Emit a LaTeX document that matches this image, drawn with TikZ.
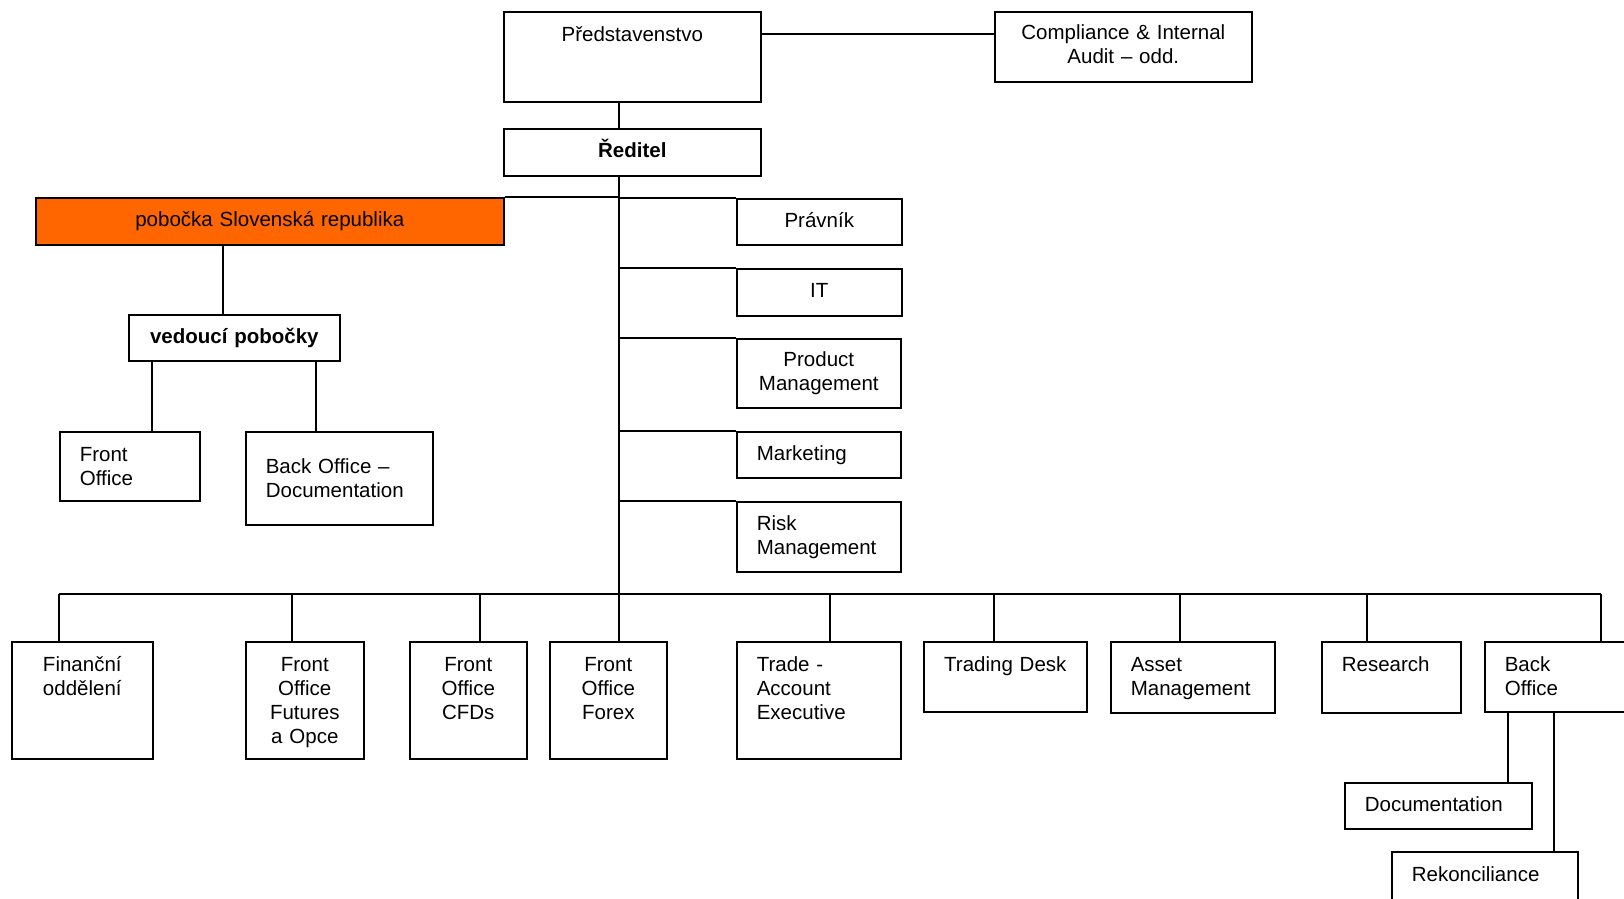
\documentclass[tikz,border=0pt]{standalone}
\usepackage{fontspec}
\setmainfont{Liberation Sans}
\usepackage{tikz}
\usetikzlibrary{positioning}
\usetikzlibrary{calc}

\definecolor{branch}{RGB}{255,102,0}
\hyphenpenalty=10000
\exhyphenpenalty=10000

\tikzset{
  box/.style 2 args={draw, line width=1.6pt, anchor=north west, inner xsep=20pt, inner ysep=0pt,
    text width=#1, minimum height=#2, align=center, font=\fontsize{20.5}{24}\selectfont},
  topline/.style={text height=30pt, text depth=#1},
  oneline/.style={text height=14pt, text depth=3pt},
  link/.style={line width=1.4pt},
}

\begin{document}
\begin{tikzpicture}[x=1pt, y=-1pt]
        \path[use as bounding box, fill=white] (0,0) rectangle (1624,898);

        % management
        \node[box={217pt}{90pt}, topline=60pt] (pred) at (503,11) {Představenstvo};
        \node[box={217pt}{70pt}, text height=15pt, text depth=29pt] (comp) at (994,11) {Compliance \& Internal\\Audit – odd.};
        \node[box={217pt}{47pt}, oneline] (red) at (503,128) {\bfseries Ředitel};
        \coordinate (trunk) at (619,594);

        % branch
        \node[box={428pt}{47pt}, fill=branch, oneline] (sk) at (35,197) {pobočka Slovenská republika};
        \node[box={171pt}{46pt}, oneline] (ved) at (128,314) {\bfseries vedoucí~pobočky};
        \node[box={100pt}{69pt}, align=left] (fo) at (59,431) {Front\\Office};
        \node[box={147pt}{93pt}, align=left] (bodoc) at (245,431) {Back Office –\\Documentation};

        % staff units
        \node[box={125pt}{46pt}, oneline] (prav) at (736,198) {Právník};
        \node[box={125pt}{47pt}, oneline] (it) at (736,268) {IT};
        \node[box={124pt}{69pt}] (pm) at (736,338) {Product\\Management};
        \node[box={124pt}{46pt}, align=left, oneline] (mkt) at (736,431) {Marketing};
        \node[box={124pt}{70pt}, align=left] (risk) at (736,501) {Risk\\Management};

        % departments
        \node[box={101pt}{117pt}, topline=87pt] (fin) at (11,641) {Finanční\\oddělení};
        \node[box={78pt}{117pt}, topline=87pt] (fofo) at (245,641) {Front\\Office\\Futures\\a Opce};
        \node[box={77pt}{117pt}, topline=87pt] (focfd) at (409,641) {Front\\Office\\CFDs};
        \node[box={77pt}{117pt}, topline=87pt] (fofx) at (549,641) {Front\\Office\\Forex};
        \node[box={124pt}{117pt}, topline=87pt, align=left] (tae) at (736,641) {Trade -\\Account\\Executive};
        \node[box={123pt}{70pt}, topline=40pt] (td) at (923,641) {Trading~Desk};
        \node[box={124pt}{71pt}, topline=41pt, align=left] (am) at (1110,641) {Asset\\Management};
        \node[box={99pt}{71pt}, topline=41pt, align=left] (res) at (1321,641) {Research};
        \node[box={110pt}{70pt}, topline=40pt, align=left] (bo) at (1484,641) {Back\\Office};
        \node[box={147pt}{46pt}, align=left, oneline] (doc) at (1344,782) {Documentation};
        \node[box={146pt}{60pt}, topline=30pt, align=left] (rek) at (1391,851) {Rekonciliance};

        % connectors
        \coordinate (predR) at (pred.north east |- 0,34);
        \draw[link] (predR) -- (predR -| comp.west);
        \draw[link] (pred.south -| trunk) -- (red.north -| trunk);
        \draw[link] (red.south -| trunk) -- (trunk);
        \draw[link] (sk.north east) -- (sk.north east -| trunk);

        \coordinate (skD) at (sk.south -| 223,0);
        \draw[link] (skD) -- (skD |- ved.north);
        \coordinate (vedL) at (ved.south -| 152,0);
        \coordinate (vedR) at (ved.south -| 316,0);
        \draw[link] (vedL) -- (vedL |- fo.north);
        \draw[link] (vedR) -- (vedR |- bodoc.north);

        \foreach \n in {prav,it,pm,mkt,risk}
          \draw[link] (\n.north west -| trunk) -- (\n.north west);

        \coordinate (busL) at (59,594);
        \coordinate (busR) at (1601,594);
        \draw[link] (busL) -- (busR);
        \foreach \n/\x in {fin/59,fofo/292,focfd/480,fofx/619,tae/830,td/994,am/1180,res/1367,bo/1601} {
          \coordinate (tap-\n) at (\x,594);
          \draw[link] (tap-\n) -- (tap-\n |- \n.north);
        }

        \coordinate (boL) at (bo.south -| 1508,0);
        \coordinate (boR) at (bo.south -| 1554,0);
        \draw[link] (boL) -- (boL |- doc.north);
        \draw[link] (boR) -- (boR |- rek.north);
    \end{tikzpicture}
\end{document}
